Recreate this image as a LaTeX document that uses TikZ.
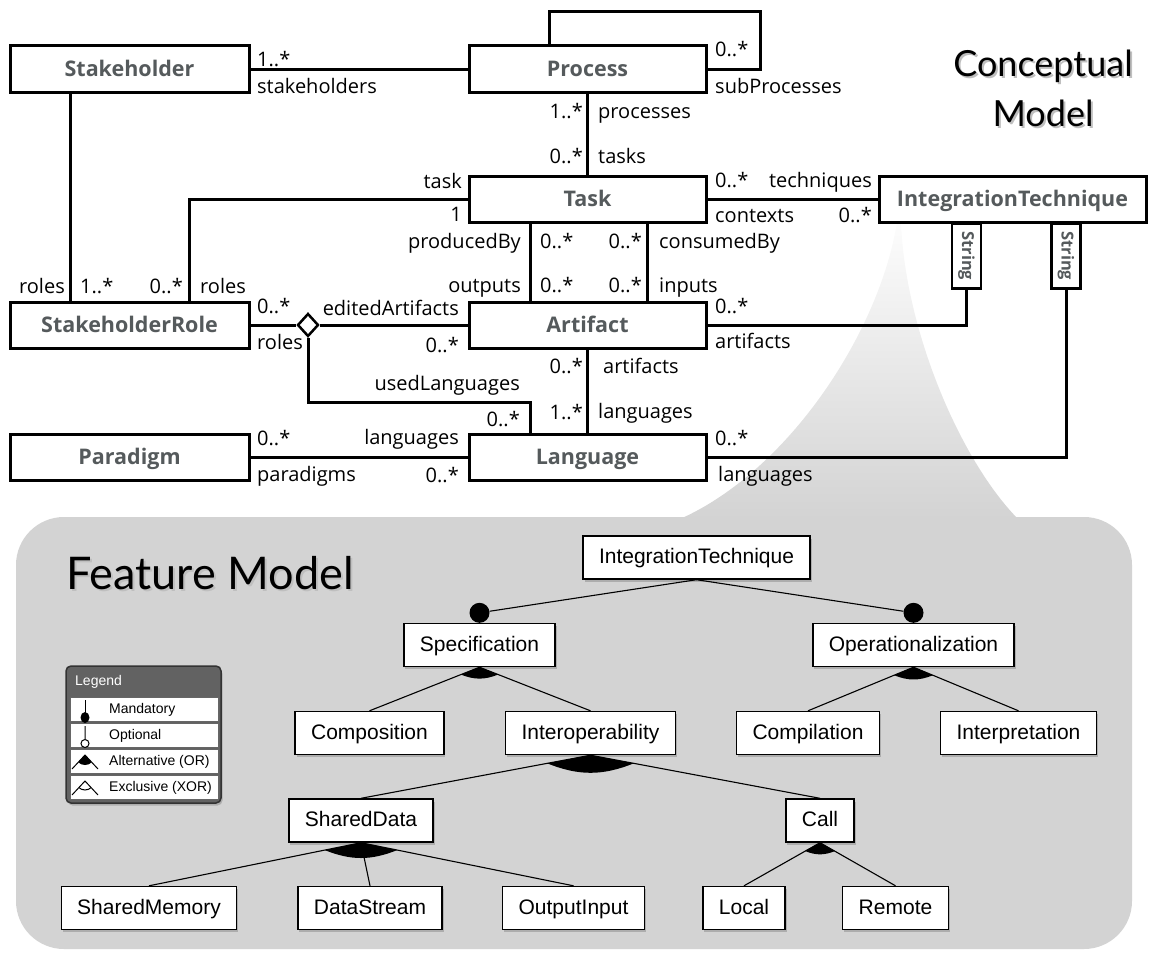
\documentclass[tikz,border=0pt]{standalone}
\usepackage{fontspec}
\setmainfont{Open Sans}
\newfontfamily\titlefont{Lato}
\newfontfamily\fmfont{Liberation Sans}
\usetikzlibrary{shapes.geometric,shadows,calc}
\definecolor{classgray}{RGB}{85,90,92}
\definecolor{fmgray}{RGB}{211,211,211}
\definecolor{legendgray}{RGB}{98,98,98}

\begin{document}
\begin{tikzpicture}[x=1pt,y=-1pt]
    % Define styles
    \tikzset{
        umlclass/.style={rectangle, draw, line width=3pt, fill=white, minimum height=46pt, text height=15.5pt, text depth=1pt, font=\fontsize{21.5}{25}\selectfont\bfseries, text=classgray},
        umllabel/.style={inner sep=0pt, text height=14.5pt, text depth=3pt, font=\fontsize{20}{24}\selectfont},
        assoc/.style={line width=3pt},
        strbox/.style={rectangle, draw, line width=2.5pt, fill=white, rotate=-90, minimum width=65pt, minimum height=29pt, inner sep=0pt, font=\fontsize{16.5}{18}\selectfont\bfseries, text=classgray},
        agg/.style={diamond, draw, line width=2.5pt, fill=white, minimum width=21pt, minimum height=23pt, inner sep=0pt},
        feature/.style={rectangle, draw, line width=1.4pt, fill=white, minimum height=43pt, text height=15pt, text depth=3pt, inner xsep=16pt, font=\fmfont\fontsize{21}{25}\selectfont, drop shadow={shadow xshift=1.5pt, shadow yshift=-2.5pt, opacity=0.45}},
        fline/.style={line width=1.1pt},
        mand/.style={circle, fill=black, minimum size=20pt, inner sep=0pt},
        legendrow/.style={rectangle, fill=white, draw=black!60, line width=0.6pt, minimum width=148pt, minimum height=24pt, inner sep=0pt},
        legendtext/.style={inner sep=0pt, text height=10pt, text depth=3pt, font=\fmfont\fontsize{14}{17}\selectfont},
        title/.style={inner sep=0pt, font=\titlefont\fontsize{36}{50}\selectfont}
    }
    \useasboundingbox (0,0) rectangle (1153,958);

    % Background of the feature model
    \shade[top color=gray!2, bottom color=fmgray] (897,222) .. controls (880,330) and (790,470) .. (680,519) -- (1018,519) .. controls (960,460) and (905,330) .. (901,222) -- cycle;
    \fill[fmgray, rounded corners=48pt] (16,517) rectangle (1132,949);

    % Classes
    \node[umlclass, minimum width=239pt] (stakeholder) at (129.5,69) {Stakeholder};
    \node[umlclass, minimum width=237pt] (process) at (587.5,69) {Process};
    \node[umlclass, minimum width=237pt] (task) at (587.5,199) {Task};
    \node[umlclass, minimum width=267pt] (integration) at (1012.5,199) {IntegrationTechnique};
    \node[umlclass, minimum width=239pt] (stakeholder_role) at (129.5,325) {StakeholderRole};
    \node[umlclass, minimum width=237pt] (artifact) at (587.5,325) {Artifact};
    \node[umlclass, minimum width=239pt] (paradigm) at (129.5,457) {Paradigm};
    \node[umlclass, minimum width=237pt] (language) at (587.5,457) {Language};
    \node[strbox, anchor=west] (string_a) at (966.5,222) {String};
    \node[strbox, anchor=west] (string_b) at (1066,222) {String};
    \node[agg] (edit_agg) at (308,325) {};
    \coordinate (loop_corner) at (760,12);
    \coordinate (lang_bend) at (530,402);

    % Associations
    \draw[assoc] (stakeholder.east) -- (process.west);
    \draw[assoc] ([xshift=-38.5pt]process.north) |- (loop_corner) |- (process.east);
    \draw[assoc] (process.south) -- (task.north);
    \draw[assoc] (task.east) -- (integration.west);
    \draw[assoc] ([xshift=-59.5pt]stakeholder.south) -- ([xshift=-59.5pt]stakeholder_role.north);
    \draw[assoc] (task.west) -| ([xshift=59.5pt]stakeholder_role.north);
    \draw[assoc] ([xshift=-57pt]task.south) -- ([xshift=-57pt]artifact.north);
    \draw[assoc] ([xshift=60pt]task.south) -- ([xshift=60pt]artifact.north);
    \draw[assoc] (stakeholder_role.east) -- (edit_agg.west);
    \draw[assoc] (edit_agg.east) -- (artifact.west);
    \draw[assoc] (edit_agg.south) |- (lang_bend) -- (lang_bend |- language.north);
    \draw[assoc] (artifact.south) -- (language.north);
    \draw[assoc] (paradigm.east) -- (language.west);
    \draw[assoc] (artifact.east) -| (string_a.east);
    \draw[assoc] (language.east) -| (string_b.east);

    % Role names and multiplicities
    \node[umllabel, anchor=west] (stake_mult) at (257,61) {1..*};
    \node[umllabel, anchor=west] (stake_name) at (257,88) {stakeholders};
    \node[umllabel, anchor=west] (sub_mult) at (715,51) {0..*};
    \node[umllabel, anchor=west] (sub_name) at (715,88) {subProcesses};
    \node[umllabel, anchor=east] (proc_mult) at (583,113) {1..*};
    \node[umllabel, anchor=west] (proc_name) at (598,113) {processes};
    \node[umllabel, anchor=east] (tasks_mult) at (583,158) {0..*};
    \node[umllabel, anchor=west] (tasks_name) at (598,158) {tasks};
    \node[umllabel, anchor=east] (task_name) at (462,183) {task};
    \node[umllabel, anchor=east] (task_mult) at (462,216) {1};
    \node[umllabel, anchor=west] (tech_mult) at (715,182) {0..*};
    \node[umllabel, anchor=east] (tech_name) at (872,182) {techniques};
    \node[umllabel, anchor=west] (ctx_name) at (715,217) {contexts};
    \node[umllabel, anchor=east] (ctx_mult) at (872,217) {0..*};
    \node[umllabel, anchor=east] (prod_name) at (521,243) {producedBy};
    \node[umllabel, anchor=west] (prod_mult) at (540,243) {0..*};
    \node[umllabel, anchor=east] (cons_mult) at (642,243) {0..*};
    \node[umllabel, anchor=west] (cons_name) at (659,243) {consumedBy};
    \node[umllabel, anchor=east] (out_name) at (521,287) {outputs};
    \node[umllabel, anchor=west] (out_mult) at (540,287) {0..*};
    \node[umllabel, anchor=east] (in_mult) at (642,287) {0..*};
    \node[umllabel, anchor=west] (in_name) at (659,287) {inputs};
    \node[umllabel, anchor=east] (roles_a_name) at (65,288) {roles};
    \node[umllabel, anchor=west] (roles_a_mult) at (80,288) {1..*};
    \node[umllabel, anchor=east] (roles_b_mult) at (183,288) {0..*};
    \node[umllabel, anchor=west] (roles_b_name) at (200,288) {roles};
    \node[umllabel, anchor=west] (agg_mult) at (257,308) {0..*};
    \node[umllabel, anchor=west] (agg_name) at (257,344) {roles};
    \node[umllabel, anchor=east] (edited_name) at (459,310) {editedArtifacts};
    \node[umllabel, anchor=east] (edited_mult) at (459,347) {0..*};
    \node[umllabel, anchor=west] (art_mult) at (715,308) {0..*};
    \node[umllabel, anchor=west] (art_name) at (715,343) {artifacts};
    \node[umllabel, anchor=east] (arts_mult) at (583,368) {0..*};
    \node[umllabel, anchor=west] (arts_name) at (603,368) {artifacts};
    \node[umllabel, anchor=east] (used_name) at (520,385) {usedLanguages};
    \node[umllabel, anchor=east] (used_mult) at (520,421) {0..*};
    \node[umllabel, anchor=east] (langs_mult) at (583,414) {1..*};
    \node[umllabel, anchor=west] (langs_name) at (598,413) {languages};
    \node[umllabel, anchor=west] (para_mult) at (257,440) {0..*};
    \node[umllabel, anchor=east] (para_lang_name) at (459,439) {languages};
    \node[umllabel, anchor=west] (para_name) at (257,476) {paradigms};
    \node[umllabel, anchor=east] (para_lang_mult) at (459,477) {0..*};
    \node[umllabel, anchor=west] (tech_lang_mult) at (715,440) {0..*};
    \node[umllabel, anchor=west] (tech_lang_name) at (718,476) {languages};

    % Titles
    \node[title, text=black!25, align=center] (concept_shadow) at (1045,90) {Conceptual\\Model};
    \node[title, align=center] (concept_title) at (1043,88) {Conceptual\\Model};
    \node[title, font=\titlefont\fontsize{45}{50}\selectfont, text=black!25, anchor=west] (fm_title_shadow) at (68,575) {Feature Model};
    \node[title, font=\titlefont\fontsize{45}{50}\selectfont, anchor=west] (fm_title) at (66,573) {Feature Model};

    % Features
    \node[feature] (fm_root) at (696.5,557.5) {IntegrationTechnique};
    \node[feature] (fm_spec) at (479.5,645) {Specification};
    \node[feature] (fm_op) at (913.5,645) {Operationalization};
    \node[feature] (fm_comp) at (369.5,733) {Composition};
    \node[feature] (fm_interop) at (590.5,733) {Interoperability};
    \node[feature] (fm_compil) at (808,733) {Compilation};
    \node[feature] (fm_interp) at (1018.5,733) {Interpretation};
    \node[feature] (fm_shared) at (361,820.5) {SharedData};
    \node[feature] (fm_call) at (820,820.5) {Call};
    \node[feature] (fm_mem) at (149,908) {SharedMemory};
    \node[feature] (fm_stream) at (370,908) {DataStream};
    \node[feature] (fm_out) at (573.5,908) {OutputInput};
    \node[feature] (fm_local) at (744,908) {Local};
    \node[feature] (fm_remote) at (895.5,908) {Remote};
    \node[mand] (mand_spec) at ([yshift=10pt]fm_spec.north) {};
    \node[mand] (mand_op) at ([yshift=10pt]fm_op.north) {};

    % Feature edges
    \draw[fline] (fm_root.south) -- (mand_spec);
    \draw[fline] (fm_root.south) -- (mand_op);
    \foreach \p/\c in {fm_spec/fm_comp, fm_spec/fm_interop, fm_op/fm_compil, fm_op/fm_interp, fm_interop/fm_shared, fm_interop/fm_call, fm_shared/fm_mem, fm_shared/fm_stream, fm_shared/fm_out, fm_call/fm_local, fm_call/fm_remote}
        \draw[fline] (\p.south) -- (\c.north);
    \foreach \p/\a/\b/\r in {fm_spec/fm_comp/fm_interop/20pt, fm_op/fm_compil/fm_interp/21pt, fm_interop/fm_shared/fm_call/44pt, fm_shared/fm_mem/fm_out/37pt, fm_call/fm_local/fm_remote/17pt}
        \fill (\p.south) -- ($(\p.south)!\r!(\a.north)$) to[bend right=22] ($(\p.south)!\r!(\b.north)$) -- cycle;

    % Legend
    \node[rectangle, rounded corners=5pt, draw=black!80, line width=1.5pt, fill=legendgray, minimum width=155pt, minimum height=137pt, drop shadow={shadow xshift=1.5pt, shadow yshift=-2.5pt, opacity=0.45}] (legend) at (143.5,734.5) {};
    \node[legendtext, text=white, anchor=west] (legend_title) at (75,682) {Legend};
    \foreach \y/\t [count=\i] in {709.5/Mandatory, 735.5/Optional, 761.5/Alternative (OR), 787.5/Exclusive (XOR)} {
        \node[legendrow] (legend_row\i) at (144,\y) {};
        \node[legendtext, anchor=west] (legend_text\i) at (109,\y) {\t};
    }
    \draw[line width=1pt] (85,700) -- (85,713);
    \fill (85,717.5) ellipse (4.5pt and 5.5pt);
    \draw[line width=1pt] (85,726) -- (85,739) (85,743.5) circle (4pt);
    \begin{scope}
        \clip (85,755) circle (10pt);
        \fill (85,755) -- (72,769) -- (98,769) -- cycle;
    \end{scope}
    \draw[line width=1pt] (72,769) -- (85,755) -- (98,769);
    \begin{scope}
        \clip (85,781) -- (71,796) -- (99,796) -- cycle;
        \draw[line width=1pt] (85,781) circle (9pt);
    \end{scope}
    \draw[line width=1pt] (72,795) -- (85,781) -- (98,795);
\end{tikzpicture}
\end{document}
